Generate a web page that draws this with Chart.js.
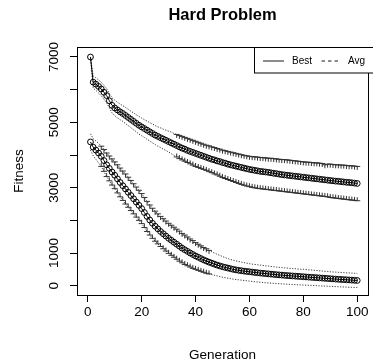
<!DOCTYPE html>
<html><head><meta charset="utf-8">
<script src="https://cdn.jsdelivr.net/npm/chart.js@4.4.1/dist/chart.umd.min.js"></script>
<style>html,body{margin:0;padding:0;background:#fff}#wrap{width:373px;height:364px}</style>
</head><body><div id="wrap"><canvas id="c" width="373" height="364"></canvas></div>
<script>
const titleText = "Hard Problem";
const xTitle = "Generation";
const yTitle = "Fitness";
const legendLabels = ["Best", "Avg"];
const xTickValues = [0, 20, 40, 60, 80, 100];
const yTickValues = [0, 1000, 2000, 3000, 4000, 5000, 6000, 7000];
const yTickLabels = ["0", "1000", "", "3000", "", "5000", "", "7000"];

const gens = [1,2,3,4,5,6,7,8,9,10,11,12,13,14,15,16,17,18,19,20,21,22,23,24,25,26,27,28,29,30,31,32,33,34,35,36,37,38,39,40,41,42,43,44,45,46,47,48,49,50,51,52,53,54,55,56,57,58,59,60,61,62,63,64,65,66,67,68,69,70,71,72,73,74,75,76,77,78,79,80,81,82,83,84,85,86,87,88,89,90,91,92,93,94,95,96,97,98,99,100];

const meanA = [7000,6230,6170,6100,6020,5920,5820,5660,5520,5440,
5380,5320,5270,5210,5150,5090,5030,4970,4910,4860,
4810,4760,4710,4660,4610,4570,4530,4490,4450,4410,
4370,4330,4290,4250,4210,4180,4140,4110,4080,4050,
4020,3990,3960,3930,3900,3870,3850,3820,3800,3770,
3750,3720,3700,3680,3660,3640,3620,3600,3580,3560,
3545,3530,3515,3500,3490,3480,3470,3455,3440,3430,
3415,3400,3390,3380,3370,3360,3350,3340,3330,3320,
3310,3300,3290,3280,3270,3260,3250,3240,3230,3220,
3210,3200,3195,3185,3175,3165,3160,3150,3140,3130];
const hiA = [7000,6420,6360,6300,6230,6130,6030,5880,5750,5680,
5620,5560,5510,5460,5400,5340,5290,5230,5180,5130,
5080,5040,4990,4950,4900,4860,4830,4790,4760,4730,
4700,4660,4630,4600,4570,4540,4510,4480,4450,4420,
4390,4360,4330,4300,4280,4250,4230,4200,4180,4150,
4130,4110,4090,4070,4050,4030,4010,3990,3975,3960,
3950,3945,3935,3925,3920,3910,3900,3900,3890,3880,
3870,3860,3860,3850,3840,3830,3820,3810,3800,3790,
3780,3780,3770,3760,3760,3750,3740,3700,3720,3720,
3710,3700,3700,3690,3690,3680,3670,3670,3660,3650];
const loA = [7000,6040,5980,5900,5810,5710,5600,5440,5290,5200,
5140,5080,5030,4960,4900,4840,4770,4710,4640,4590,
4540,4480,4430,4370,4320,4270,4230,4180,4140,4090,
4040,3990,3940,3890,3850,3810,3770,3730,3690,3650,
3620,3590,3560,3530,3490,3460,3420,3390,3350,3310,
3280,3250,3220,3190,3160,3130,3100,3075,3050,3030,
3010,2995,2980,2970,2960,2950,2940,2930,2920,2910,
2900,2890,2880,2870,2860,2850,2840,2830,2820,2810,
2800,2790,2780,2770,2760,2750,2740,2730,2720,2700,
2690,2680,2670,2660,2650,2640,2630,2620,2610,2600];

const meanB = [4400,4240,4150,4060,3960,3830,3700,3590,3480,3380,
3270,3160,3060,2960,2860,2760,2660,2560,2460,2360,
2240,2120,2010,1910,1820,1740,1660,1590,1520,1450,
1390,1330,1270,1210,1150,1100,1050,1000,955,910,
870,830,790,755,720,690,660,630,605,580,
560,540,520,500,485,470,458,446,436,426,
416,406,396,387,378,370,362,354,346,338,
331,324,317,310,304,298,292,286,280,274,
268,262,256,250,244,238,232,226,220,214,
208,202,196,191,186,181,176,171,165,160];
const hiB = [4650,4500,4430,4360,4270,4170,4060,3970,3880,3790,
3700,3600,3510,3420,3320,3220,3120,3020,2920,2820,
2700,2580,2470,2370,2280,2200,2120,2050,1980,1910,
1850,1790,1730,1670,1600,1550,1490,1430,1380,1320,
1270,1220,1170,1130,1080,1040,1000,960,930,890,
860,830,800,780,760,740,720,705,690,675,
660,650,640,630,620,610,600,590,580,570,
560,555,545,540,530,525,520,510,505,500,
495,485,480,470,465,455,450,440,435,425,
420,415,410,405,400,395,390,385,380,375];
const loB = [4150,3980,3870,3760,3650,3500,3340,3210,3080,2970,
2840,2720,2610,2500,2400,2300,2200,2100,2000,1900,
1780,1660,1550,1450,1360,1280,1200,1130,1060,990,
930,870,810,750,700,650,610,570,530,500,
470,440,410,380,360,340,320,300,280,260,
245,230,215,200,190,180,170,160,150,140,
130,122,114,106,98,90,84,78,72,66,
60,55,50,45,40,36,32,28,24,20,
16,12,8,4,0,-4,-8,-12,-16,-20,
-24,-28,-32,-36,-40,-44,-48,-50,-52,-55];

// generations where error-bar caps are visible
const capGensA = [33, 100];
const capGensB = [5, 45];

const FONT = "'Liberation Sans', Arial, Helvetica, sans-serif";
const pts = (arr) => gens.map((g, i) => ({x: g, y: arr[i]}));

function meanDs(arr) {
  return {data: pts(arr), borderColor: '#000', borderWidth: 1, pointRadius: 2.9,
    pointBorderWidth: 1, pointBorderColor: '#000', pointBackgroundColor: 'rgba(0,0,0,0)',
    pointStyle: 'circle', fill: false, tension: 0};
}
function boundDs(arr) {
  return {data: pts(arr), borderColor: '#000', borderWidth: 0.8, borderDash: [1.2, 1.5],
    pointRadius: 0, fill: false, tension: 0};
}

const decor = {
  id: 'decor',
  afterDatasetsDraw(chart) {
    const ctx = chart.ctx, xs = chart.scales.x, ys = chart.scales.y;
    ctx.save();
    ctx.strokeStyle = '#333'; ctx.lineWidth = 1;
    const caps = (hi, lo, range) => {
      for (let i = 0; i < gens.length; i++) {
        if (gens[i] < range[0] || gens[i] > range[1]) continue;
        const px = xs.getPixelForValue(gens[i]);
        const ph = ys.getPixelForValue(hi[i]);
        const pl = ys.getPixelForValue(lo[i]);
        ctx.beginPath();
        ctx.moveTo(px - 3, ph); ctx.lineTo(px + 3, ph);
        ctx.moveTo(px, ph); ctx.lineTo(px, ph + 3.5);
        ctx.moveTo(px - 3, pl); ctx.lineTo(px + 3, pl);
        ctx.moveTo(px, pl); ctx.lineTo(px, pl - 3.5);
        ctx.stroke();
      }
    };
    caps(hiA, loA, capGensA);
    caps(hiB, loB, capGensB);
    ctx.restore();
  },
  afterDraw(chart) {
    const ctx = chart.ctx, a = chart.chartArea, ys = chart.scales.y;
    ctx.save();
    ctx.strokeStyle = '#000'; ctx.lineWidth = 1;
    ctx.strokeRect(Math.round(a.left) + 0.5, Math.round(a.top) + 0.5,
      Math.round(a.right - a.left), Math.round(a.bottom - a.top));
    ctx.fillStyle = '#000';
    ctx.font = 'bold 16.5px ' + FONT;
    ctx.textAlign = 'center'; ctx.textBaseline = 'alphabetic';
    ctx.fillText(titleText, (a.left + a.right) / 2, 20);
    ctx.font = '13.5px ' + FONT;
    yTickValues.forEach((v, i) => {
      if (!yTickLabels[i]) return;
      const py = ys.getPixelForValue(v);
      ctx.save();
      ctx.translate(57.5, py);
      ctx.rotate(-Math.PI / 2);
      ctx.textAlign = 'center'; ctx.textBaseline = 'alphabetic';
      ctx.fillText(yTickLabels[i], 0, 0);
      ctx.restore();
    });
    const lx = 254.5, ly = a.top + 0.5, lw = 130, lh = 25.5;
    ctx.fillStyle = '#fff';
    ctx.fillRect(lx, ly, lw, lh);
    ctx.strokeRect(lx, ly, lw, lh);
    ctx.lineWidth = 0.9;
    const my = ly + 13.5;
    ctx.beginPath(); ctx.moveTo(263, my); ctx.lineTo(284, my); ctx.stroke();
    ctx.setLineDash([3.5, 3]);
    ctx.beginPath(); ctx.moveTo(321.5, my); ctx.lineTo(341, my); ctx.stroke();
    ctx.setLineDash([]);
    ctx.fillStyle = '#000';
    ctx.font = '10px ' + FONT;
    ctx.textAlign = 'left'; ctx.textBaseline = 'middle';
    ctx.fillText(legendLabels[0], 292, my + 0.5);
    ctx.fillText(legendLabels[1], 348, my + 0.5);
    ctx.restore();
  }
};

new Chart(document.getElementById('c'), {
  type: 'line',
  data: {
    datasets: [
      boundDs(hiA), boundDs(loA), meanDs(meanA),
      boundDs(hiB), boundDs(loB), meanDs(meanB)
    ]
  },
  options: {
    responsive: false, animation: false, devicePixelRatio: 1,
    layout: {padding: {left: 0, right: 1, top: 47, bottom: 0}},
    plugins: {legend: {display: false}, title: {display: false}, tooltip: {enabled: false}},
    elements: {line: {borderCapStyle: 'butt'}},
    scales: {
      x: {
        type: 'linear', min: -4, max: 104,
        afterBuildTicks: (s) => { s.ticks = xTickValues.map(v => ({value: v})); },
        afterFit: (s) => { s.height = 69; },
        grid: {display: true, drawOnChartArea: false, drawTicks: true, tickLength: 7, color: '#000', lineWidth: 1},
        border: {display: false},
        ticks: {color: '#000', font: {family: FONT, size: 13.5}, padding: 2, maxRotation: 0, autoSkip: false},
        title: {display: true, text: xTitle, color: '#000', font: {family: FONT, size: 13.5}, padding: {top: 0, bottom: 1}}
      },
      y: {
        type: 'linear', min: -285, max: 7306,
        afterBuildTicks: (s) => { s.ticks = yTickValues.map(v => ({value: v})); },
        afterFit: (s) => { s.width = 77; },
        grid: {display: true, drawOnChartArea: false, drawTicks: true, tickLength: 7, color: '#000', lineWidth: 1},
        border: {display: false},
        ticks: {color: '#000', font: {family: FONT, size: 13.5}, callback: () => '', autoSkip: false},
        title: {display: true, text: yTitle, color: '#000', font: {family: FONT, size: 13.5}, padding: {top: 11, bottom: 0}}
      }
    }
  },
  plugins: [decor]
});
</script>
</body></html>
